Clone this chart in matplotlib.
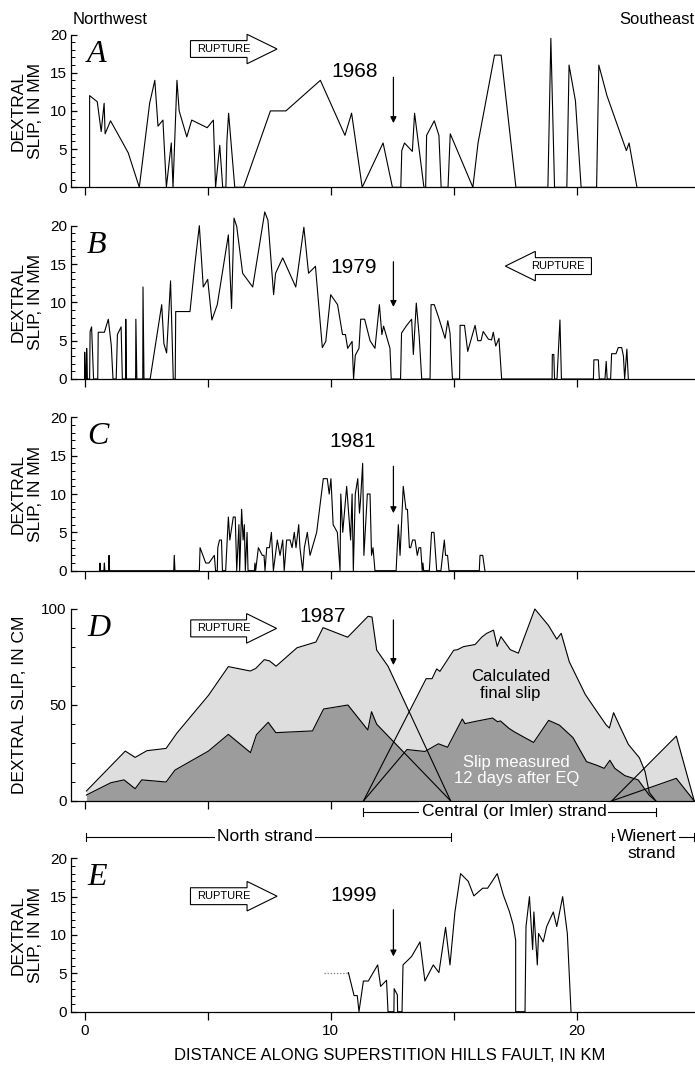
import matplotlib
matplotlib.use("Agg")
import matplotlib.pyplot as plt
from matplotlib.patches import FancyArrow
from matplotlib.ticker import MultipleLocator

plt.rcParams["font.family"] = ["Liberation Sans", "DejaVu Sans"]

# ---------------- data (distance in km, slip in mm or cm) ----------------
a_km = [0.20, 0.20, 0.51, 0.67, 0.79, 0.83, 1.05, 1.55, 1.77, 2.22, 2.64, 2.85, 2.98,
        3.18, 3.32, 3.52, 3.59, 3.75, 3.84, 4.15, 4.35, 4.98, 5.23, 5.32, 5.49, 5.61,
        5.74, 5.78, 5.85, 6.10, 6.46, 7.55, 8.18, 9.58, 10.58, 10.85, 11.28, 12.13,
        12.51, 12.85, 12.89, 13.0, 13.32, 13.41, 13.79, 13.86, 13.90, 14.21, 14.40,
        14.49, 14.77, 14.86, 15.78, 15.99, 16.66, 16.93, 17.53, 18.83, 18.95, 19.10,
        19.60, 19.69, 19.95, 20.18, 20.81, 20.90, 21.23, 22.02, 22.13, 22.45]
a_mm = [0, 12, 11.2, 7.3, 11.0, 7.0, 8.7, 5.8, 4.5, 0, 11, 14, 8, 8.8, 0, 5.8, 0, 14,
        10, 6.6, 8.8, 7.8, 8.8, 0, 5.5, 0, 0, 6, 9.7, 0, 0, 10, 10, 14, 6.8, 9.7, 0,
        5.8, 0, 0, 4.8, 5.8, 4.7, 9.7, 0, 0, 6.8, 8.7, 6.8, 0, 0, 7, 0, 5.8, 17.3,
        17.3, 0, 0, 19.5, 0, 0, 16, 11.3, 0, 0, 16, 12, 4.8, 5.8, 0]

b_km = [0.0, 0.0, 0.03, 0.07, 0.08, 0.11, 0.2, 0.22, 0.28, 0.36, 0.53, 0.55, 0.8,
        0.96, 1.08, 1.15, 1.28, 1.33, 1.48, 1.53, 1.66, 1.67, 1.7, 2.07, 2.08, 2.12,
        2.36, 2.37, 2.41, 2.66, 3.13, 3.22, 3.33, 3.49, 3.6, 3.68, 3.7, 4.28, 4.48,
        4.66, 4.82, 5.0, 5.17, 5.39, 5.84, 5.97, 6.07, 6.18, 6.42, 6.83, 7.32, 7.45,
        7.68, 7.76, 8.05, 8.58, 8.91, 9.1, 9.38, 9.66, 9.8, 10.0, 10.28, 10.48, 10.6,
        10.69, 10.87, 10.93, 11.0, 11.15, 11.22, 11.38, 11.6, 11.8, 11.98, 12.08,
        12.15, 12.3, 12.41, 12.46, 12.84, 12.88, 13.09, 13.29, 13.36, 13.48, 13.6,
        13.7, 14.04, 14.08, 14.21, 14.38, 14.65, 14.76, 14.85, 14.95, 15.24, 15.26,
        15.44, 15.57, 15.87, 15.98, 16.11, 16.2, 16.41, 16.54, 16.61, 16.71, 16.84,
        16.95, 19.0, 19.01, 19.07, 19.1, 19.2, 19.32, 19.38, 20.68, 20.7, 20.88, 20.92,
        21.15, 21.2, 21.24, 21.38, 21.42, 21.6, 21.69, 21.83, 21.9, 21.95, 22.04, 22.1]
b_mm = [0, 3.5, 0, 0, 4, 0, 0, 6.2, 6.8, 0, 0, 6.1, 6.1, 7.8, 4.4, 0, 0, 5.8, 6.8, 0,
        0, 7.8, 0, 0, 7.8, 0, 0, 12, 0, 0, 9.7, 4.6, 3.4, 12.8, 0, 0, 8.8, 8.8, 15, 20,
        12, 13, 7.7, 9.7, 18.8, 9.2, 21, 19.9, 13.8, 12, 21.8, 20.7, 11.0, 13.8, 15.8,
        12, 19.8, 13.8, 14.7, 4.1, 4.9, 11, 9.7, 5.8, 5.8, 4, 4.9, 0, 3.1, 4, 7.8, 7.8,
        5, 4, 9.7, 5.8, 6.9, 5.2, 4, 0, 0, 6, 7, 7.8, 3.2, 9.9, 5.5, 0, 0, 9.7, 9.7,
        8.1, 5.3, 7.6, 6, 0, 0, 7, 7, 3.6, 7, 5, 5, 6.2, 5.2, 5.1, 6.1, 4.3, 5.3, 0, 0,
        3.2, 3.2, 0, 0, 7.7, 0, 0, 2.5, 2.5, 0, 0, 2.3, 0, 0, 3.3, 3.3, 4.1, 4.1, 3.0,
        0, 3.9, 0]

c_km = [0.6, 0.62, 0.64, 0.78, 0.8, 0.82, 0.97, 0.99, 1.01, 3.62, 3.64, 3.67, 4.66,
        4.69, 4.92, 5.05, 5.27, 5.32, 5.39, 5.41, 5.48, 5.56, 5.6, 5.73, 5.84, 5.9,
        6.04, 6.12, 6.18, 6.27, 6.3, 6.38, 6.44, 6.49, 6.53, 6.6, 6.64, 6.9, 6.92,
        6.95, 7.06, 7.22, 7.29, 7.33, 7.4, 7.51, 7.59, 7.67, 7.83, 7.94, 8.05, 8.11,
        8.21, 8.35, 8.43, 8.52, 8.59, 8.7, 8.75, 8.86, 8.93, 9.05, 9.16, 9.43, 9.7,
        9.86, 9.94, 10.01, 10.1, 10.27, 10.38, 10.41, 10.49, 10.65, 10.81, 10.87,
        10.92, 11.0, 11.1, 11.17, 11.21, 11.3, 11.35, 11.49, 11.6, 11.66, 11.72, 11.8,
        12.66, 12.75, 12.82, 12.95, 13.06, 13.12, 13.2, 13.25, 13.33, 13.43, 13.52,
        13.59, 13.66, 13.72, 13.75, 13.78, 14.01, 14.1, 14.2, 14.31, 14.48, 14.55,
        14.62, 14.67, 14.75, 14.81, 16.04, 16.07, 16.18, 16.27]
c_mm = [0, 1, 0, 0, 1, 0, 0, 2, 0, 0, 2, 0, 0, 3, 1, 1, 2, 0, 0, 3, 4, 4, 0, 0, 7, 4,
        7, 7, 0, 6, 0, 8, 4, 6, 0, 5, 0, 0, 1, 0, 3, 2, 2, 0, 3, 3, 5, 0, 4, 2, 4, 0,
        4, 4, 3, 5, 3, 6, 3, 0, 3, 5, 2, 5, 12, 12, 10, 12, 6, 5, 0, 10, 5, 11, 4, 10,
        0, 10, 12, 7.5, 9, 14, 2, 10, 10, 2, 3, 0, 0, 6, 2, 11, 8, 8, 3, 3, 4, 4, 2, 3,
        3, 0, 1, 0, 0, 5, 5, 0, 0, 2, 4, 2, 2, 0, 0, 2, 2, 0]

# 1987: calculated final slip and slip measured 12 days after EQ (cm)
north_calc_km = [0.07, 1.65, 2.05, 2.53, 3.31, 3.75, 5.03, 5.84, 6.73, 6.95, 7.3, 7.51,
                 7.78, 8.63, 9.4, 9.69, 10.69, 11.52, 11.68, 11.87, 12.33, 14.88]
north_calc_cm = [5.2, 26, 22.7, 26.2, 27.4, 35.4, 55, 70, 67.7, 69, 73.6, 73, 70.2,
                 79.8, 82.8, 90.3, 85.3, 96.2, 95.8, 78.6, 70.2, 0]
north_meas_km = [0.07, 1.06, 1.6, 2.05, 2.32, 3.31, 3.67, 5.03, 5.84, 6.74, 6.98, 7.46,
                 7.77, 9.26, 9.71, 10.7, 11.51, 11.66, 11.87, 14.88]
north_meas_cm = [3.1, 9.5, 11, 6.4, 11, 9.9, 16.1, 26, 34.7, 25.2, 34.5, 41, 35.6,
                 36.5, 47.9, 50, 37, 46.5, 40, 0]
central_calc_km = [11.33, 13.88, 14.12, 14.31, 14.44, 15.0, 15.15, 15.4, 15.87, 16.14,
                   16.34, 16.62, 16.77, 16.92, 17.3, 17.63, 18.3, 18.85, 19.19, 19.37,
                   19.7, 20.35, 20.8, 21.2, 21.33, 21.5, 21.75, 22.1, 22.55, 22.78,
                   22.95, 23.22]
central_calc_cm = [0, 63.7, 63.7, 68.8, 67.5, 78.5, 78.8, 80.4, 81.5, 85.3, 87.3, 89,
                   80.5, 85.6, 78.8, 77, 100, 91.5, 84.3, 87.3, 72.5, 55.5, 47, 39.6,
                   38, 46, 39, 29.5, 22.5, 15.3, 4.5, 0]
central_meas_km = [11.33, 13.1, 13.83, 14.38, 14.75, 15.35, 15.46, 15.9, 16.58, 16.78,
                   16.9, 17.25, 17.47, 17.82, 18.25, 18.86, 19.3, 19.85, 20.4, 20.84,
                   21.12, 21.35, 21.55, 21.96, 22.5, 22.95, 23.22]
central_meas_cm = [0, 26.8, 25.8, 29.8, 28, 42.7, 40.3, 41.5, 43.2, 41.3, 41.7, 37.8,
                   36, 33.5, 30.5, 42, 39.5, 33, 20.5, 18.5, 17, 21.2, 17, 13.2, 11, 3, 0]
wienert_km = [21.42, 24.05, 24.78]
wienert_calc_cm = [0, 33.8, 0]
wienert_meas_cm = [0, 11.8, 0]

e_km = [10.72, 10.95, 11.08, 11.15, 11.33, 11.53, 11.91, 12.03, 12.27, 12.33, 12.57,
        12.58, 12.71, 12.72, 12.9, 12.94, 13.29, 13.63, 13.83, 14.17, 14.4, 14.67,
        14.85, 15.05, 15.28, 15.59, 15.82, 16.18, 16.38, 16.77, 17.02, 17.26, 17.42,
        17.52, 17.52, 17.9, 17.94, 18.08, 18.21, 18.26, 18.4, 18.45, 18.64, 18.78,
        19.05, 19.19, 19.43, 19.62, 19.77]
e_mm = [5.1, 2.1, 2.1, 0, 4.0, 4.0, 6.1, 3.3, 4.1, 0, 0, 3.0, 2.2, 0, 0, 6.1, 7.2, 9.1,
        4.0, 6.1, 5.1, 11.0, 6.1, 13.0, 18.0, 17.0, 15.1, 16.1, 16.1, 18.0, 15.2, 13.1,
        11.3, 9.3, 0, 0, 11.1, 15.0, 8.1, 13.0, 6.1, 10.2, 9.1, 11.1, 13.0, 11.1, 15.0,
        10.2, 0]
e_dotted_km = [9.73, 10.72]
e_dotted_mm = [5.1, 5.1]

strand_names = ["Central (or Imler) strand", "North strand", "Wienert"]
strand_start = [11.33, 0.07, 21.42]
strand_end = [23.22, 14.88, 24.78]

EPICENTER_KM = 12.55
LIGHT = "#dedede"
DARK = "#9c9c9c"

# ---------------- layout ----------------
W, H = 695, 1066
LEFT = 71
fig = plt.figure(figsize=(W / 100, H / 100), dpi=100)


def add_panel(top, bottom, ymax, major, minor, xlabels=False):
    ax = fig.add_axes([LEFT / W, 1 - bottom / H, (W - LEFT) / W, (bottom - top) / H])
    ax.set_xlim(-0.557, 24.81)
    ax.set_ylim(0, ymax)
    ax.patch.set_visible(False)
    for s in ("top", "right"):
        ax.spines[s].set_visible(False)
    for s in ("left", "bottom"):
        ax.spines[s].set_linewidth(0.9)
    ax.xaxis.set_major_locator(MultipleLocator(5))
    ax.yaxis.set_major_locator(MultipleLocator(major))
    ax.yaxis.set_minor_locator(MultipleLocator(minor))
    ax.tick_params(axis="x", direction="out", length=6, width=0.9, labelsize=11,
                   labelbottom=xlabels, pad=3)
    ax.tick_params(axis="y", which="major", direction="in", length=4.5, width=0.9,
                   labelsize=11, pad=3)
    ax.tick_params(axis="y", which="minor", direction="in", length=3, width=0.7)
    return ax


def panel_letter(top, letter):
    fig.text(87 / W, 1 - (top + 27) / H, letter, fontsize=23, style="italic",
             family=["Liberation Serif", "DejaVu Serif"], va="baseline", ha="left")


def ylabel(top, bottom, text, x=27):
    fig.text(x / W, 1 - (top + bottom) / 2 / H, text, rotation=90, fontsize=12.5,
             ha="center", va="center", multialignment="center", linespacing=1.25)


def rupture(ax, tail, tip, y, body, head, text_x):
    ax.add_patch(FancyArrow(tail, y, tip - tail, 0, width=body, head_width=head,
                            head_length=1.22, length_includes_head=True, fc="white",
                            ec="black", lw=0.8, clip_on=False, zorder=5))
    ax.text(text_x, y, "RUPTURE", fontsize=8, ha="center", va="center", zorder=6)


def epicenter(ax, y0, y1):
    ax.annotate("", xy=(EPICENTER_KM, y1), xytext=(EPICENTER_KM, y0),
                arrowprops=dict(arrowstyle="-|>", color="black", lw=0.9,
                                mutation_scale=9, shrinkA=0, shrinkB=0))


panels = {"A": (34.5, 187.3), "B": (225.7, 379.0), "C": (417.3, 570.7),
          "D": (609.0, 801.0), "E": (858.3, 1011.7)}

# ---- A: 1968 ----
ax_a = add_panel(*panels["A"], 20, 5, 1)
ax_a.plot(a_km, a_mm, color="black", lw=0.8, clip_on=False)
ax_a.text(10.97, 15.2, "1968", fontsize=15, ha="center", va="center")
epicenter(ax_a, 14.4, 8.4)
rupture(ax_a, 4.3, 7.82, 18.1, 2.2, 3.85, 5.67)
fig.text(73 / W, 1 - 24 / H, "Northwest", fontsize=12, ha="left", va="baseline")
fig.text(694 / W, 1 - 24 / H, "Southeast", fontsize=12, ha="right", va="baseline")

# ---- B: 1979 ----
ax_b = add_panel(*panels["B"], 20, 5, 1)
ax_b.plot(b_km, b_mm, color="black", lw=0.8, clip_on=False)
ax_b.text(10.95, 14.5, "1979", fontsize=15, ha="center", va="center")
epicenter(ax_b, 15.3, 9.4)
rupture(ax_b, 20.6, 17.1, 14.73, 2.2, 3.85, 19.25)

# ---- C: 1981 ----
ax_c = add_panel(*panels["C"], 20, 5, 1)
ax_c.plot(c_km, c_mm, color="black", lw=0.8, clip_on=False)
ax_c.text(10.9, 16.9, "1981", fontsize=15, ha="center", va="center")
epicenter(ax_c, 13.6, 7.5)

# ---- D: 1987 ----
ax_d = add_panel(*panels["D"], 100, 50, 10)
for xs, ys in [(north_calc_km, north_calc_cm), (central_calc_km, central_calc_cm),
               (wienert_km, wienert_calc_cm)]:
    ax_d.fill_between(xs, 0, ys, color=LIGHT, lw=0, zorder=1)
for xs, ys in [(north_meas_km, north_meas_cm), (central_meas_km, central_meas_cm),
               (wienert_km, wienert_meas_cm)]:
    ax_d.fill_between(xs, 0, ys, color=DARK, lw=0, zorder=2)
for xs, ys in [(north_calc_km, north_calc_cm), (central_calc_km, central_calc_cm),
               (wienert_km, wienert_calc_cm), (north_meas_km, north_meas_cm),
               (central_meas_km, central_meas_cm), (wienert_km, wienert_meas_cm)]:
    ax_d.plot(xs, ys, color="black", lw=0.8, zorder=3, clip_on=False)
ax_d.text(9.69, 96, "1987", fontsize=15, ha="center", va="center")
epicenter(ax_d, 94.3, 70.8)
rupture(ax_d, 4.31, 7.8, 89.9, 8.85, 15.4, 5.67)
ax_d.text(17.3, 60.4, "Calculated\nfinal slip", fontsize=12, ha="center", va="center",
          linespacing=1.1, zorder=4)
ax_d.text(17.55, 16, "Slip measured\n12 days after EQ", fontsize=12, color="white",
          ha="center", va="center", linespacing=1.1, zorder=4)

# strand bars under panel D
bar_y = [-5.6, -18.6, -18.6]
bar_text_x = [17.45, 7.33, 22.85]
for name, x0, x1, y, tx in zip(strand_names, strand_start, strand_end, bar_y, bar_text_x):
    ax_d.plot([x0, x1], [y, y], color="black", lw=0.8, clip_on=False)
    ax_d.plot([x0, x0], [y - 2, y + 2], color="black", lw=0.8, clip_on=False)
    ax_d.plot([x1, x1], [y - 2, y + 2], color="black", lw=0.8, clip_on=False)
    ax_d.text(tx, y, name, fontsize=12.5, ha="center", va="center", clip_on=False,
              bbox=dict(fc="white", ec="none", pad=1.5))
ax_d.text(23.05, -27.1, "strand", fontsize=12.5, ha="center", va="center")

# ---- E: 1999 ----
ax_e = add_panel(*panels["E"], 20, 5, 1, xlabels=True)
ax_e.plot(e_dotted_km, e_dotted_mm, color="#777777", lw=0.9, ls=(0, (1, 1.5)))
ax_e.plot(e_km, e_mm, color="black", lw=0.8, clip_on=False)
ax_e.text(10.95, 15.2, "1999", fontsize=15, ha="center", va="center")
epicenter(ax_e, 13.3, 7.2)
rupture(ax_e, 4.3, 7.82, 15.06, 2.2, 3.85, 5.67)
ax_e.set_xticks([0, 10, 20], minor=False)
ax_e.set_xticks([5, 15], minor=True)
ax_e.tick_params(axis="x", which="minor", direction="out", length=6, width=0.9)
fig.text(390 / W, 1 - 1056 / H, "DISTANCE ALONG SUPERSTITION HILLS FAULT, IN KM",
         fontsize=12, ha="center", va="center")

# y-axis labels
for key in ("A", "B", "C", "E"):
    ylabel(*panels[key], "DEXTRAL\nSLIP, IN MM")
ylabel(*panels["D"], "DEXTRAL SLIP, IN CM", x=20)

# panel letters
for key in panels:
    panel_letter(panels[key][0], key)

fig.savefig("out.png", dpi=100)
